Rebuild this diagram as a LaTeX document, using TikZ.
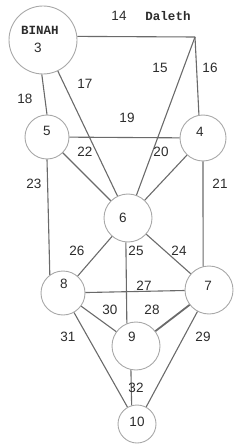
\documentclass[tikz,border=0pt]{standalone}
\usepackage{fontspec}
\setmainfont{Liberation Sans}
\newfontfamily\typew{Liberation Mono}
\definecolor{linec}{HTML}{6A6A6A}
\definecolor{circc}{HTML}{A8A8A8}
\definecolor{txtc}{HTML}{2C2C2C}
\begin{document}
\begin{tikzpicture}[x=1pt,y=-1pt,
  sef/.style={circle,draw=circc,line width=0.9pt,inner sep=0pt,text=txtc,font=\fontsize{13}{13}\selectfont},
  pathline/.style={draw=linec,line width=1.1pt},
  num/.style={text=txtc,font=\fontsize{13.5}{14}\selectfont,inner sep=0pt},
  tw/.style={text=txtc,font=\typew\bfseries\fontsize{12.5}{13}\selectfont,inner sep=0pt}]
\useasboundingbox (0,0) rectangle (242,446);
\node[sef,minimum size=68pt] (n3) at (43,40) {};
\node[tw] (tbinah) at (40,30) {BINAH};
\node[num] (t3) at (38,48) {3};
\node[sef,minimum size=44pt] (n5) at (47,137) {};
\node[num] (t5) at (47,131) {5};
\node[sef,minimum size=46pt] (n4) at (203,138) {};
\node[num] (t4) at (200,132) {4};
\node[sef,minimum size=48pt] (n6) at (128,218) {};
\node[num] (t6) at (123,218) {6};
\node[sef,minimum size=44pt] (n8) at (63,293) {};
\node[num] (t8) at (64,284) {8};
\node[sef,minimum size=48pt] (n7) at (209,290) {};
\node[num] (t7) at (208,286) {7};
\node[sef,minimum size=48pt] (n9) at (136,346) {};
\node[num] (t9) at (132,337) {9};
\node[sef,minimum size=38pt] (n10) at (137,424) {};
\node[num] (t10) at (137,422) {10};
\coordinate (corner) at (195,37);
% connectors
\draw[pathline] (n3.6) -- (corner);
\draw[pathline] (corner) -- (n4.100);
\draw[pathline] (corner) -- (n6);
\draw[pathline] (n3) -- (n6);
\draw[pathline] (n3.268) -- (n5.north);
\draw[pathline] (n5) -- (n4);
\draw[pathline] (n5) -- (n6);
\draw[pathline] (n4) -- (n6);
\draw[pathline] (n5.south) -- (n8.126);
\draw[pathline] (n4.south) -- (n7.104);
\draw[pathline] (n6) -- (n8);
\draw[pathline] (n6.265) -- (n9.112);
\draw[pathline] (n6) -- (n7);
\draw[pathline] (n8) -- (n7);
\draw[pathline] (n8) -- (n9);
\draw[pathline,line width=1.8pt] (n7) -- (n9);
\draw[pathline] (n8) -- (n10);
\draw[pathline] (n7) -- (n10);
\draw[pathline] (n9.258) -- (n10.106);
% path labels
\node[num] (l14) at (119,16) {14};
\node[tw] (ldal) at (168,16) {Daleth};
\node[num] (l15) at (160,68) {15};
\node[num] (l16) at (210,68) {16};
\node[num] (l17) at (85,84) {17};
\node[num] (l18) at (25,99) {18};
\node[num] (l19) at (127,118) {19};
\node[num] (l22) at (85,152) {22};
\node[num] (l20) at (161,152) {20};
\node[num] (l23) at (34,184) {23};
\node[num] (l21) at (220,184) {21};
\node[num] (l26) at (77,251) {26};
\node[num] (l25) at (136,251) {25};
\node[num] (l24) at (179,251) {24};
\node[num] (l27) at (144,286) {27};
\node[num] (l30) at (110,310) {30};
\node[num] (l28) at (152,310) {28};
\node[num] (l31) at (68,337) {31};
\node[num] (l29) at (203,337) {29};
\node[num] (l32) at (136,388) {32};
\end{tikzpicture}
\end{document}
